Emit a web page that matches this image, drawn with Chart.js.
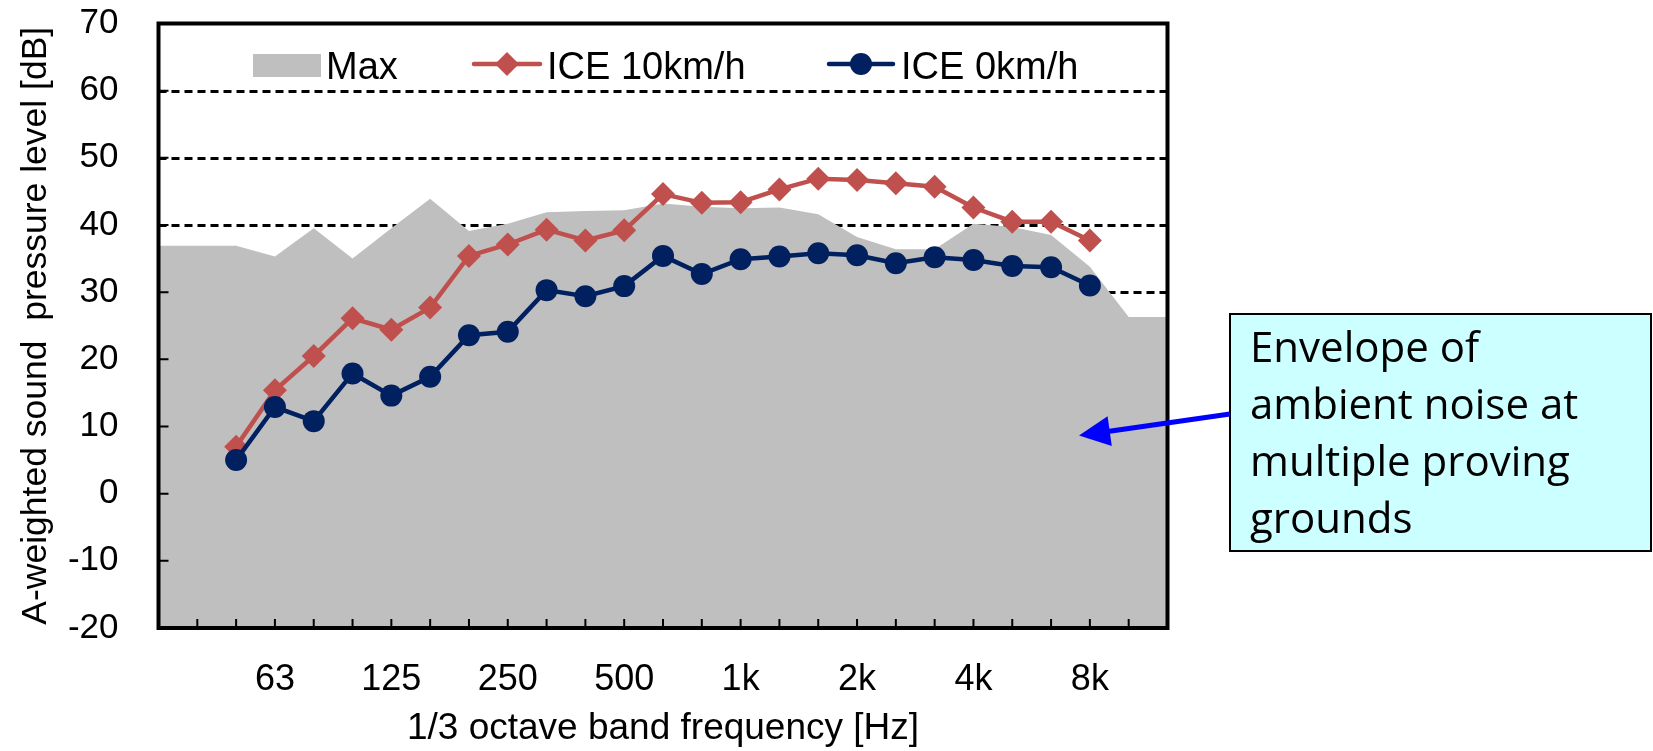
<!DOCTYPE html>
<html>
<head>
<meta charset="utf-8">
<script src="https://cdn.jsdelivr.net/npm/chart.js@4.4.0/dist/chart.umd.min.js"></script>
<style>
  html, body { margin: 0; padding: 0; background: #fff; }
  canvas { display: block; }
</style>
</head>
<body>
<canvas id="chart" width="1653" height="751"></canvas>
<script>
// 1/3 octave band centre frequencies
const bands = ['31.5', '40', '50', '63', '80', '100', '125', '160', '200', '250', '315', '400', '500',
  '630', '800', '1k', '1.25k', '1.6k', '2k', '2.5k', '3.15k', '4k', '5k', '6.3k', '8k', '10k', '12.5k'];
const tickLabels = ['63', '125', '250', '500', '1k', '2k', '4k', '8k'];

// envelope (max) of ambient noise, dB(A)
const maxEnvelope = [36.9, 36.9, 36.9, 35.3, 39.5, 35.0, 39.5, 43.9, 39.1, 40.2, 41.9, 42.1, 42.2,
  43.2, 42.7, 42.5, 42.6, 41.6, 38.2, 36.4, 36.4, 40.2, 39.7, 38.5, 33.8, 26.3, 26.3];
const ice10 = [null, null, 7.0, 15.4, 20.5, 26.1, 24.4, 27.7, 35.4, 37.1, 39.3, 37.7, 39.2,
  44.6, 43.3, 43.4, 45.3, 46.9, 46.7, 46.2, 45.7, 42.6, 40.5, 40.5, 37.7, null, null];
const ice0 = [null, null, 5.0, 12.9, 10.8, 17.9, 14.6, 17.4, 23.6, 24.1, 30.3, 29.4, 30.9,
  35.4, 32.7, 34.9, 35.3, 35.8, 35.5, 34.3, 35.2, 34.8, 33.9, 33.7, 31.0, null, null];

const calloutLines = ['Envelope of', 'ambient noise at', 'multiple proving', 'grounds'];

const FONT = '"Liberation Sans", Arial, sans-serif';
const GREY = '#BFBFBF';
const RED = '#C0504D';
const NAVY = '#002060';

// dashed grid, inside tick marks, frame, legend and the callout
const decorations = {
  id: 'decorations',
  beforeDatasetsDraw(chart) {
    const {ctx, chartArea: a, scales: {y}} = chart;
    ctx.save();
    ctx.strokeStyle = '#000';
    ctx.lineWidth = 3;
    ctx.setLineDash([8, 5]);
    y.ticks.forEach(t => {
      if (t.value <= y.min || t.value >= y.max) return;
      const py = Math.round(y.getPixelForValue(t.value)) + 0.5;
      ctx.beginPath();
      ctx.moveTo(a.left, py);
      ctx.lineTo(a.right, py);
      ctx.stroke();
    });
    ctx.restore();
  },
  afterDatasetsDraw(chart) {
    const {ctx, chartArea: a, scales: {x, y}} = chart;
    ctx.save();
    ctx.strokeStyle = '#000';
    ctx.lineWidth = 2;
    ctx.beginPath();
    y.ticks.forEach(t => {
      const py = y.getPixelForValue(t.value);
      ctx.moveTo(a.left, py);
      ctx.lineTo(a.left + 10, py);
    });
    bands.forEach((b, i) => {
      const px = x.getPixelForValue(i);
      ctx.moveTo(px, a.bottom);
      ctx.lineTo(px, a.bottom - 9);
    });
    ctx.stroke();

    ctx.lineWidth = 4;
    ctx.strokeRect(a.left, a.top, a.right - a.left, a.bottom - a.top);

    // legend inside the plot
    const ds = chart.data.datasets;
    const ly = 64;
    ctx.font = '38px ' + FONT;
    ctx.textBaseline = 'alphabetic';

    ctx.fillStyle = GREY;
    ctx.fillRect(253, 54, 68, 23);
    ctx.fillStyle = '#000';
    ctx.fillText(ds[0].label, 326, 79);

    ctx.strokeStyle = RED;
    ctx.lineWidth = 4.5;
    ctx.lineCap = 'round';
    ctx.beginPath();
    ctx.moveTo(474, ly);
    ctx.lineTo(540, ly);
    ctx.stroke();
    ctx.fillStyle = RED;
    ctx.beginPath();
    ctx.moveTo(507, ly - 12);
    ctx.lineTo(519, ly);
    ctx.lineTo(507, ly + 12);
    ctx.lineTo(495, ly);
    ctx.closePath();
    ctx.fill();
    ctx.fillStyle = '#000';
    ctx.fillText(ds[1].label, 547, 79);

    ctx.strokeStyle = NAVY;
    ctx.beginPath();
    ctx.moveTo(829, ly);
    ctx.lineTo(893, ly);
    ctx.stroke();
    ctx.fillStyle = NAVY;
    ctx.beginPath();
    ctx.arc(861, ly, 11, 0, Math.PI * 2);
    ctx.fill();
    ctx.fillStyle = '#000';
    ctx.fillText(ds[2].label, 901, 79);
    ctx.restore();
  },
  afterDraw(chart) {
    const {ctx} = chart;
    ctx.save();
    // callout box
    ctx.fillStyle = '#CCFFFF';
    ctx.fillRect(1230, 314, 421, 237);
    ctx.strokeStyle = '#000';
    ctx.lineWidth = 2;
    ctx.strokeRect(1230, 314, 421, 237);
    ctx.fillStyle = '#000';
    ctx.font = '42px "Open Sans", sans-serif';
    ctx.textBaseline = 'alphabetic';
    calloutLines.forEach((s, i) => ctx.fillText(s, 1250, 362 + i * 57));

    // arrow from the box to the grey envelope
    const x0 = 1230, y0 = 414, x1 = 1079, y1 = 435.5;
    const len = Math.hypot(x1 - x0, y1 - y0);
    const ux = (x1 - x0) / len, uy = (y1 - y0) / len;
    const hl = 31, hw = 15;
    const bx = x1 - ux * hl, by = y1 - uy * hl;
    ctx.strokeStyle = '#0000FF';
    ctx.fillStyle = '#0000FF';
    ctx.lineWidth = 5;
    ctx.beginPath();
    ctx.moveTo(x0, y0);
    ctx.lineTo(bx + ux * 2, by + uy * 2);
    ctx.stroke();
    ctx.beginPath();
    ctx.moveTo(x1, y1);
    ctx.lineTo(bx - uy * hw, by + ux * hw);
    ctx.lineTo(bx + uy * hw, by - ux * hw);
    ctx.closePath();
    ctx.fill();
    ctx.restore();
  }
};

new Chart(document.getElementById('chart'), {
  type: 'line',
  data: {
    labels: bands,
    datasets: [
      {
        label: 'Max',
        data: maxEnvelope,
        fill: 'start',
        backgroundColor: GREY,
        borderWidth: 0,
        pointRadius: 0,
        tension: 0,
        order: 3
      },
      {
        label: 'ICE 10km/h',
        data: ice10,
        borderColor: RED,
        backgroundColor: RED,
        borderWidth: 4.5,
        pointStyle: 'rectRot',
        pointRadius: 12,
        pointBorderWidth: 0,
        tension: 0,
        order: 2
      },
      {
        label: 'ICE 0km/h',
        data: ice0,
        borderColor: NAVY,
        backgroundColor: NAVY,
        borderWidth: 4.5,
        pointStyle: 'circle',
        pointRadius: 11,
        pointBorderWidth: 0,
        tension: 0,
        order: 1
      }
    ]
  },
  options: {
    responsive: false,
    animation: false,
    layout: { padding: { top: 23.5, right: 485.5, bottom: 0, left: 0 } },
    plugins: {
      legend: { display: false },
      tooltip: { enabled: false }
    },
    scales: {
      x: {
        offset: false,
        grid: { display: false, drawTicks: false },
        border: { display: false },
        afterFit: (s) => { s.height = 123; },
        ticks: {
          autoSkip: false,
          maxRotation: 0,
          padding: 30,
          color: '#000',
          font: { family: FONT, size: 36 },
          callback: (v, i) => tickLabels.includes(bands[i]) ? bands[i] : ''
        },
        title: {
          display: true,
          text: '1/3 octave band frequency [Hz]',
          color: '#000',
          font: { family: FONT, size: 37 },
          padding: { top: 0, bottom: 0 }
        }
      },
      y: {
        min: -20,
        max: 70,
        grid: { display: false, drawTicks: false },
        border: { display: false },
        afterFit: (s) => {
          s.width = 158.5;
          s.paddingTop = 0;
          s.paddingBottom = 0;
        },
        ticks: {
          stepSize: 10,
          padding: 40,
          color: '#000',
          font: { family: FONT, size: 35 }
        },
        title: {
          display: true,
          text: 'A-weighted sound  pressure level [dB]',
          color: '#000',
          font: { family: FONT, size: 35.5 },
          padding: { top: 15, bottom: 0 }
        }
      }
    }
  },
  plugins: [decorations]
});
</script>
</body>
</html>
